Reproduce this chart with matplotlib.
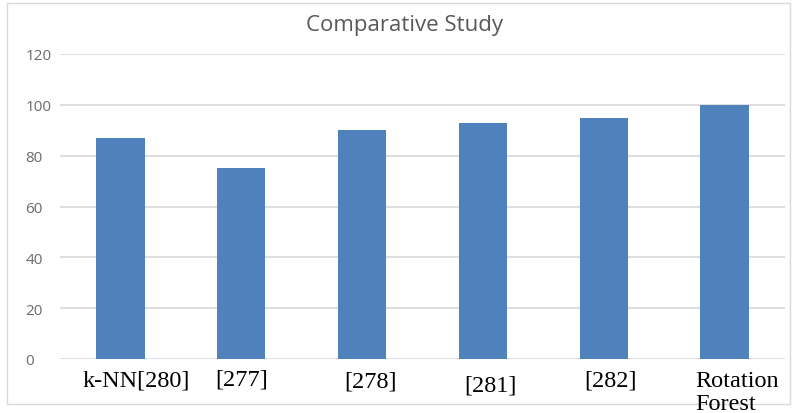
import matplotlib
matplotlib.use("Agg")
import matplotlib.pyplot as plt
from matplotlib.patches import Rectangle

# ---- data ----
categories = ["k-NN[280]", "[277]", "[278]", "[281]", "[282]", "Rotation\nForest"]
values = [87, 75, 90, 93, 95, 100]
yticks = [0, 20, 40, 60, 80, 100, 120]
title = "Comparative Study"

# ---- layout (pixel positions of the overlaid labels: x, top y, alignment) ----
W, H = 793, 414
label_pos = [(136, 371, "center"), (242, 370, "center"), (370, 372, "center"),
             (490, 376, "center"), (610, 371, "center"), (695, 371, "left")]

fig = plt.figure(figsize=(W / 100, H / 100), dpi=100)
ax = fig.add_axes([60 / W, 1 - 360 / H, (785 - 60) / W, (360 - 55) / H])

x = list(range(len(values)))
ax.bar(x, values, width=0.4, color="#4F81BD", zorder=3)
ax.set_xlim(-0.5, len(values) - 0.5)
ax.set_ylim(0, 120)
ax.set_yticks(yticks)
ax.yaxis.grid(True, color="#D9D9D9", linewidth=1.2, zorder=0)
ax.set_axisbelow(True)
for s in ax.spines.values():
    s.set_visible(False)
ax.set_xticks(x)
ax.set_xticklabels([""] * len(x))
ax.tick_params(axis="both", length=0)
ax.tick_params(axis="y", pad=25, labelsize=11, labelcolor="#6b6b6b")
for t in ax.get_yticklabels():
    t.set_horizontalalignment("left")
    t.set_fontfamily("Open Sans")

# outer chart frame
fig.patches.append(Rectangle((7 / W, 1 - 405 / H), (790 - 7) / W, (405 - 4) / H,
                             transform=fig.transFigure, fill=False,
                             edgecolor="#D9D9D9", linewidth=1.0, zorder=0))

# title
fig.text(404 / W, 1 - 25 / H, title, ha="center", va="center",
         fontsize=16, color="#595959", family="Open Sans")

# category labels (serif, overlaid)
for lab, (px, py, ha) in zip(categories, label_pos):
    fig.text(px / W, 1 - py / H, lab, ha=ha, va="top", fontsize=17.5,
             family="Liberation Serif", color="black", linespacing=1.15)

fig.savefig("out.png", dpi=100)
